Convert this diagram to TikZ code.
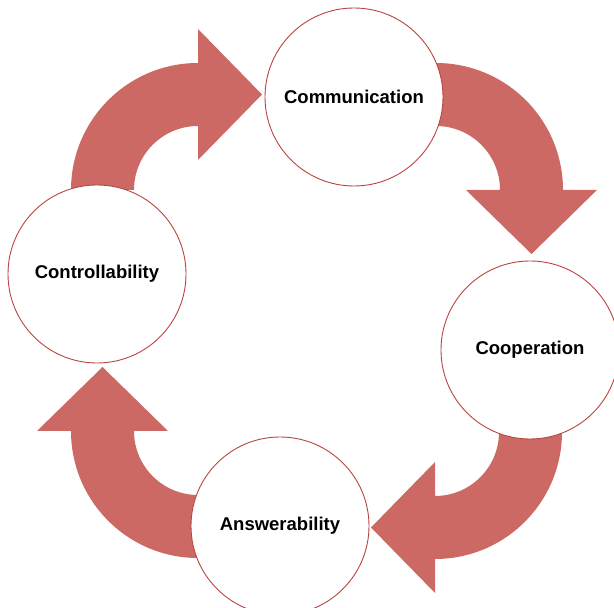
\documentclass[tikz,border=0pt]{standalone}
\usepackage{fontspec}
\setmainfont{Liberation Sans}
\usetikzlibrary{calc}
\definecolor{arrowred}{HTML}{CC6964}
\definecolor{ringred}{HTML}{B8463F}
\tikzset{
  stage/.style={circle, draw=ringred, line width=0.9pt, fill=white, minimum size=178pt, inner sep=0pt, font=\fontsize{18.5}{22}\selectfont\bfseries, text=black},
  bigarrow/.style={fill=arrowred, draw=none}
}
% #1 centre, #2 start angle, #3 end angle, #4 tip direction
\newcommand{\curvedarrow}[4]{%
  \path[bigarrow] ($(#1)+(#2:127)$) arc[start angle=#2, end angle=#3, radius=127]
    -- ($(#1)+(#3:161)$)
    -- ($(#1)+(#3:95.5)+(#4:64)$)
    -- ($(#1)+(#3:30)$)
    -- ($(#1)+(#3:64)$) arc[start angle=#3, end angle=#2, radius=64]
    -- cycle;}
\begin{document}
\begin{tikzpicture}[x=1pt,y=1pt]
\useasboundingbox (0,0) rectangle (614,608);
\coordinate (ctl) at (198,418);
\coordinate (ctr) at (436,418);
\coordinate (cbr) at (435,176);
\coordinate (cbl) at (198,177);
\curvedarrow{ctl}{180}{90}{0}
\curvedarrow{ctr}{90}{0}{-90}
\curvedarrow{cbr}{0}{-90}{180}
\curvedarrow{cbl}{-90}{-180}{90}
\node[stage] (comm) at (354,511) {Communication};
\node[stage] (ctrl) at (97,334) {Controllability};
\node[stage] (coop) at (530,258) {Cooperation};
\node[stage] (answ) at (280,82) {Answerability};
\end{tikzpicture}
\end{document}
